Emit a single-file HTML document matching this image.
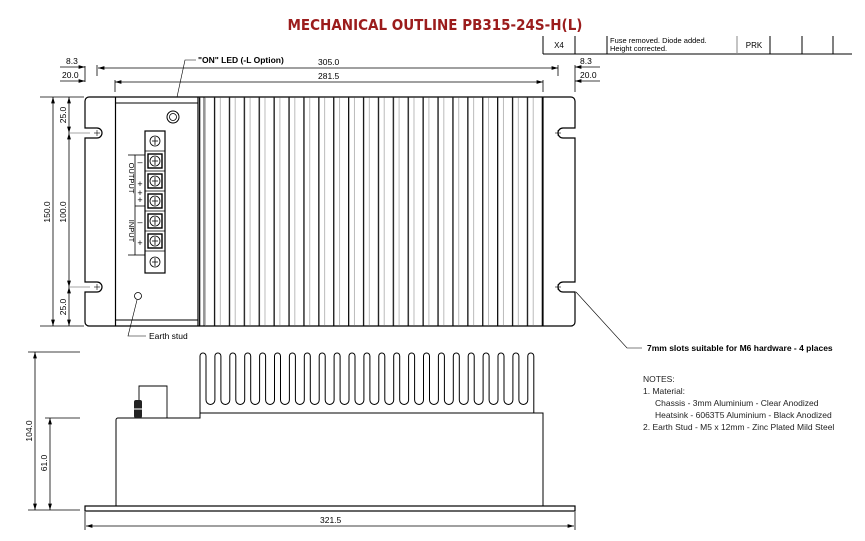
<!DOCTYPE html>
<html><head><style>
html,body{margin:0;padding:0;background:#fff;}
svg{display:block;}
text{font-family:"Liberation Sans",Arial,sans-serif;}
</style></head><body>
<svg width="865" height="541" viewBox="0 0 865 541" xmlns="http://www.w3.org/2000/svg">
<defs>
<marker id="ar" viewBox="0 0 10 6" refX="10" refY="3" markerWidth="8" markerHeight="5" orient="auto-start-reverse"><path d="M0,0 L10,3 L0,6z" fill="#000"/></marker>
<pattern id="fins" x="199" y="0" width="14.9" height="10" patternUnits="userSpaceOnUse">
<rect x="0" y="0" width="1.3" height="10" fill="#111"/>
<rect x="6" y="0" width="0.8" height="10" fill="#aaa"/>
</pattern>
</defs>
<text x="435" y="30" text-anchor="middle" font-size="15" font-weight="bold" fill="#9b1c1c" style="font-family:'DejaVu Sans Condensed','Liberation Sans',sans-serif">MECHANICAL OUTLINE PB315-24S-H(L)</text>

<!-- revision table -->
<g stroke="#000" stroke-width="1">
<line x1="543" y1="54" x2="852" y2="54"/>
<line x1="543" y1="36" x2="543" y2="54"/>
<line x1="575" y1="36" x2="575" y2="54"/>
<line x1="607" y1="36" x2="607" y2="54"/>
<line x1="737" y1="36" x2="737" y2="54" stroke="#888"/>
<line x1="770" y1="36" x2="770" y2="54"/>
<line x1="802" y1="36" x2="802" y2="54"/>
<line x1="833" y1="36" x2="833" y2="54"/>
</g>
<text x="559" y="48" font-size="8" text-anchor="middle">X4</text>
<text x="610" y="43" font-size="7.5">Fuse removed.  Diode added.</text>
<text x="610" y="51" font-size="7.5">Height corrected.</text>
<text x="754" y="48" font-size="8" text-anchor="middle">PRK</text>

<!-- top dims -->
<g stroke="#000" stroke-width="0.8" fill="none">
<line x1="85" y1="66" x2="85" y2="82"/><line x1="97" y1="65" x2="97" y2="76"/>
<line x1="115" y1="80" x2="115" y2="92"/>
<line x1="558" y1="65" x2="558" y2="76"/><line x1="543" y1="80" x2="543" y2="92"/>
<line x1="575" y1="65" x2="575" y2="92"/>
<line x1="60" y1="67" x2="85" y2="67" marker-end="url(#ar)"/>
<line x1="60" y1="81" x2="85" y2="81" marker-end="url(#ar)"/>
<line x1="98" y1="68" x2="558" y2="68" marker-start="url(#ar)" marker-end="url(#ar)"/>
<line x1="115" y1="82" x2="543" y2="82" marker-start="url(#ar)" marker-end="url(#ar)"/>
<line x1="600" y1="67" x2="575" y2="67" marker-end="url(#ar)"/>
<line x1="600" y1="81" x2="575" y2="81" marker-end="url(#ar)"/>
</g>
<text x="66" y="64" font-size="8.5">8.3</text>
<text x="62" y="78" font-size="8.5">20.0</text>
<text x="580" y="64" font-size="8.5">8.3</text>
<text x="580" y="78" font-size="8.5">20.0</text>
<text x="318" y="65" font-size="8.5">305.0</text>
<text x="318" y="79" font-size="8.5">281.5</text>
<text x="198" y="63" font-size="8.5" font-weight="bold">"ON" LED (-L Option)</text>
<path d="M196,60 L185,60 L174,111" stroke="#000" stroke-width="0.6" fill="none"/>

<!-- left vertical dims -->
<g stroke="#000" stroke-width="0.8" fill="none">
<line x1="40" y1="97" x2="84" y2="97"/><line x1="40" y1="326" x2="84" y2="326"/>
<line x1="70" y1="133" x2="90" y2="133" stroke="#888"/><line x1="70" y1="287" x2="90" y2="287" stroke="#888"/>
<line x1="53" y1="97" x2="53" y2="326" marker-start="url(#ar)" marker-end="url(#ar)"/>
<line x1="69" y1="97" x2="69" y2="133" marker-start="url(#ar)" marker-end="url(#ar)"/>
<line x1="69" y1="133" x2="69" y2="287" marker-start="url(#ar)" marker-end="url(#ar)"/>
<line x1="69" y1="287" x2="69" y2="326" marker-start="url(#ar)" marker-end="url(#ar)"/>
</g>
<text transform="translate(50,212) rotate(-90)" font-size="8.5" text-anchor="middle">150.0</text>
<text transform="translate(66,212) rotate(-90)" font-size="8.5" text-anchor="middle">100.0</text>
<text transform="translate(66,115) rotate(-90)" font-size="8.5" text-anchor="middle">25.0</text>
<text transform="translate(66,307) rotate(-90)" font-size="8.5" text-anchor="middle">25.0</text>

<!-- top view plate -->
<path d="M89,97 H571 a4,4 0 0 1 4,4 V128 H563 a5,5 0 0 0 0,10 H575 V282 H563 a5,5 0 0 0 0,10 H575 V322 a4,4 0 0 1 -4,4 H89 a4,4 0 0 1 -4,-4 V292 H97 a5,5 0 0 0 0,-10 H85 V138 H97 a5,5 0 0 0 0,-10 H85 V101 a4,4 0 0 1 4,-4z" fill="#fff" stroke="#000" stroke-width="1.2"/>
<g stroke="#000" stroke-width="0.6">
<line x1="94" y1="133" x2="100" y2="133"/><line x1="97" y1="130" x2="97" y2="136"/>
<line x1="94" y1="287" x2="100" y2="287"/><line x1="97" y1="284" x2="97" y2="290"/>
<line x1="555" y1="133" x2="561" y2="133"/><line x1="558" y1="130" x2="558" y2="136"/>
<line x1="555" y1="287" x2="561" y2="287"/><line x1="558" y1="284" x2="558" y2="290"/>
</g>
<rect x="199" y="97.6" width="344" height="228" fill="url(#fins)"/>
<g stroke="#000" fill="none">
<line x1="115.5" y1="97" x2="115.5" y2="326" stroke-width="1.2"/>
<line x1="543" y1="97" x2="543" y2="326" stroke-width="1.2"/>
<line x1="116" y1="103" x2="198" y2="103" stroke-width="1"/>
<line x1="116" y1="320" x2="198" y2="320" stroke-width="1"/>
<line x1="198" y1="97" x2="198" y2="326" stroke-width="1.2"/>
<line x1="204" y1="97" x2="204" y2="326" stroke-width="0.8"/>
<circle cx="173" cy="117" r="6" stroke-width="1"/><circle cx="173" cy="117" r="3.5" stroke-width="0.8"/>
<circle cx="138" cy="296" r="3.5" stroke-width="0.8"/>
</g>
<path d="M137,300 L128,336 L146,336" stroke="#000" stroke-width="0.6" fill="none"/>
<text x="149" y="339" font-size="8.5">Earth stud</text>

<!-- terminal block -->
<rect x="145" y="131" width="20" height="142" fill="#fff" stroke="#000" stroke-width="1.2"/>
<g stroke="#000" fill="none" stroke-width="0.8">
<line x1="145" y1="151" x2="165" y2="151"/><line x1="145" y1="171" x2="165" y2="171"/><line x1="145" y1="191" x2="165" y2="191"/><line x1="145" y1="211" x2="165" y2="211"/><line x1="145" y1="231" x2="165" y2="231"/><line x1="145" y1="251" x2="165" y2="251"/>
<rect x="148" y="154" width="14" height="14" stroke-width="1.4"/><rect x="148" y="174" width="14" height="14" stroke-width="1.4"/><rect x="148" y="194" width="14" height="14" stroke-width="1.4"/><rect x="148" y="214" width="14" height="14" stroke-width="1.4"/><rect x="148" y="234" width="14" height="14" stroke-width="1.4"/>
<circle cx="155" cy="141" r="5"/><circle cx="155" cy="161" r="5"/><circle cx="155" cy="181" r="5"/><circle cx="155" cy="201" r="5"/><circle cx="155" cy="221" r="5"/><circle cx="155" cy="241" r="5"/><circle cx="155" cy="262" r="5"/>
<path d="M155,137v8M152,141h6M155,157v8M152,161h6M155,177v8M152,181h6M155,197v8M152,201h6M155,217v8M152,221h6M155,237v8M152,241h6M155,258v8M152,262h6"/>
<rect x="135" y="155" width="10" height="100"/>
<line x1="135" y1="206" x2="145" y2="206"/>
<line x1="128" y1="155" x2="135" y2="155"/><line x1="128" y1="255" x2="135" y2="255"/>
</g>
<text x="140" y="165" font-size="9" text-anchor="middle">–</text>
<text x="140" y="187" font-size="9" text-anchor="middle">+</text>
<text x="140" y="196" font-size="9" text-anchor="middle">+</text>
<text x="140" y="203" font-size="9" text-anchor="middle">+</text>
<text x="140" y="225" font-size="9" text-anchor="middle">–</text>
<text x="140" y="246" font-size="9" text-anchor="middle">+</text>
<text transform="translate(129,178) rotate(90)" font-size="7.5" text-anchor="middle">OUTPUT</text>
<text transform="translate(129,231) rotate(90)" font-size="7.5" text-anchor="middle">INPUT</text>

<!-- leader for slots -->
<path d="M576,292 L627,348 L642,348" stroke="#000" stroke-width="0.6" fill="none"/>
<text x="647" y="351" font-size="8.5" font-weight="bold">7mm slots suitable for M6 hardware - 4 places</text>

<!-- notes -->
<g font-size="8.5" fill="#222">
<text x="643" y="382">NOTES:</text>
<text x="643" y="394">1.  Material:</text>
<text x="655" y="406">Chassis - 3mm Aluminium - Clear Anodized</text>
<text x="655" y="418">Heatsink - 6063T5 Aluminium - Black Anodized</text>
<text x="643" y="430">2.  Earth Stud - M5 x 12mm - Zinc Plated Mild Steel</text>
</g>

<!-- side view -->
<g stroke="#000" fill="none" stroke-width="1">
<path d="M116,506 V420 a2,2 0 0 1 2,-2 H200 V413 H543 V506"/>
<path d="M200,413 V356 a3,3 0 0 1 6,0 V400 a4.45,4.45 0 0 0 8.9,0 V356 a3,3 0 0 1 6,0 V400 a4.45,4.45 0 0 0 8.9,0 V356 a3,3 0 0 1 6,0 V400 a4.45,4.45 0 0 0 8.9,0 V356 a3,3 0 0 1 6,0 V400 a4.45,4.45 0 0 0 8.9,0 V356 a3,3 0 0 1 6,0 V400 a4.45,4.45 0 0 0 8.9,0 V356 a3,3 0 0 1 6,0 V400 a4.45,4.45 0 0 0 8.9,0 V356 a3,3 0 0 1 6,0 V400 a4.45,4.45 0 0 0 8.9,0 V356 a3,3 0 0 1 6,0 V400 a4.45,4.45 0 0 0 8.9,0 V356 a3,3 0 0 1 6,0 V400 a4.45,4.45 0 0 0 8.9,0 V356 a3,3 0 0 1 6,0 V400 a4.45,4.45 0 0 0 8.9,0 V356 a3,3 0 0 1 6,0 V400 a4.45,4.45 0 0 0 8.9,0 V356 a3,3 0 0 1 6,0 V400 a4.45,4.45 0 0 0 8.9,0 V356 a3,3 0 0 1 6,0 V400 a4.45,4.45 0 0 0 8.9,0 V356 a3,3 0 0 1 6,0 V400 a4.45,4.45 0 0 0 8.9,0 V356 a3,3 0 0 1 6,0 V400 a4.45,4.45 0 0 0 8.9,0 V356 a3,3 0 0 1 6,0 V400 a4.45,4.45 0 0 0 8.9,0 V356 a3,3 0 0 1 6,0 V400 a4.45,4.45 0 0 0 8.9,0 V356 a3,3 0 0 1 6,0 V400 a4.45,4.45 0 0 0 8.9,0 V356 a3,3 0 0 1 6,0 V400 a4.45,4.45 0 0 0 8.9,0 V356 a3,3 0 0 1 6,0 V400 a4.45,4.45 0 0 0 8.9,0 V356 a3,3 0 0 1 6,0 V400 a4.45,4.45 0 0 0 8.9,0 V356 a3,3 0 0 1 6,0 V400 a4.45,4.45 0 0 0 8.9,0 V356 a3,3 0 0 1 6,0 V413"/>
<rect x="85" y="506" width="490" height="5" stroke-width="1.2"/>
<path d="M139,418 V386 H167 V418" stroke-width="0.9"/>
</g>
<rect x="134" y="400" width="8" height="18" rx="2" fill="#222"/>
<rect x="134" y="408" width="8" height="2" fill="#999"/>
<g stroke="#000" stroke-width="0.8" fill="none">
<line x1="28" y1="352" x2="80" y2="352"/><line x1="28" y1="510" x2="80" y2="510"/>
<line x1="45" y1="418" x2="80" y2="418"/>
<line x1="35" y1="352" x2="35" y2="510" marker-start="url(#ar)" marker-end="url(#ar)"/>
<line x1="50" y1="418" x2="50" y2="510" marker-start="url(#ar)" marker-end="url(#ar)"/>
<line x1="85" y1="512" x2="85" y2="530"/><line x1="575" y1="512" x2="575" y2="530"/>
<line x1="86" y1="526" x2="574" y2="526" marker-start="url(#ar)" marker-end="url(#ar)"/>
</g>
<text transform="translate(32,431) rotate(-90)" font-size="8.5" text-anchor="middle">104.0</text>
<text transform="translate(47,463) rotate(-90)" font-size="8.5" text-anchor="middle">61.0</text>
<text x="320" y="523" font-size="8.5">321.5</text>
</svg>
</body></html>
